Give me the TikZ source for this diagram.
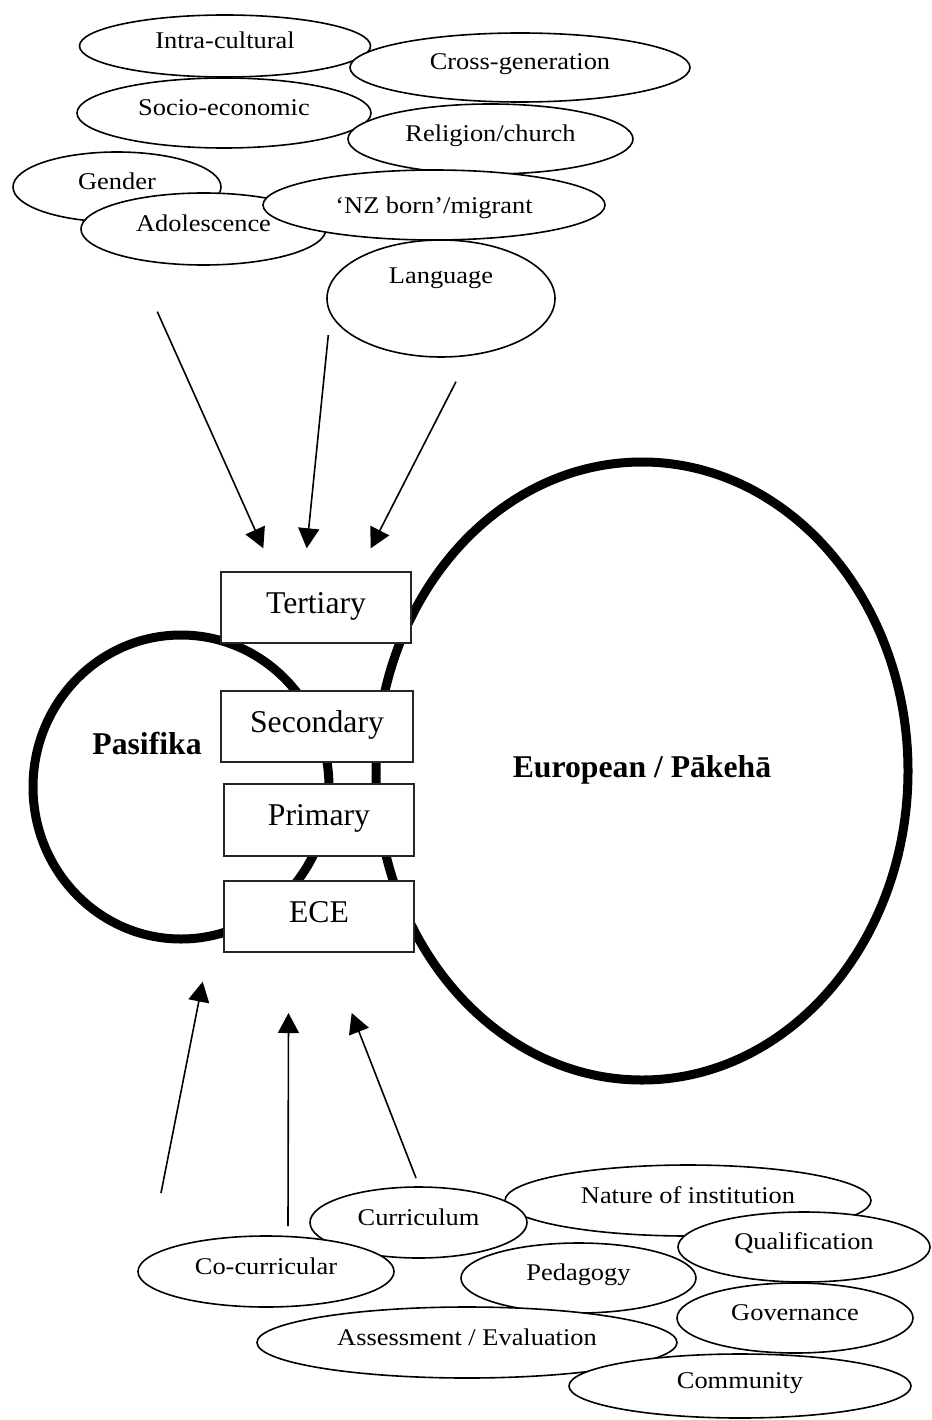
\documentclass[tikz,border=0pt]{standalone}
\usepackage{fontspec}
\setmainfont{Liberation Serif}
\usetikzlibrary{arrows.meta,shapes.geometric}
\newcommand\wtext[1]{\scalebox{1.1}[1]{#1}}
\newcommand\lowered[1]{\raisebox{-4pt}{#1}}
\begin{document}
\begin{tikzpicture}[x=1pt,y=-1pt,
  oval/.style={ellipse, draw, fill=white, line width=1.6pt, inner sep=0pt,
    font=\fontsize{24}{28}\selectfont, text height=0.7em, text depth=0.2em},
  levelbox/.style={rectangle, draw=black!85, fill=white, line width=1.5pt, inner sep=0pt,
    font=\fontsize{31.7}{38}\selectfont, text height=0.6em, text depth=0.3em},
  ring/.style={ellipse, draw, line width=9pt, inner sep=0pt},
  group/.style={font=\bfseries\fontsize{31.7}{38}\selectfont, anchor=base, inner sep=0pt},
  influence/.style={line width=1.6pt, -{Triangle[length=20pt,width=21pt]}},
]
\useasboundingbox (0,0) rectangle (931,1420);

% top influences
\node[oval, minimum width=291pt, minimum height=62pt] (intra) at (225,46) {\wtext{Intra-cultural}};
\node[oval, minimum width=340pt, minimum height=69pt] (cross) at (520,67.5) {\wtext{Cross-generation}};
\node[oval, minimum width=294pt, minimum height=70pt] (socio) at (224,113) {\wtext{Socio-economic}};
\node[oval, minimum width=285pt, minimum height=70pt] (religion) at (490.5,139) {\wtext{Religion/church}};
\node[oval, minimum width=208pt, minimum height=70pt] (gender) at (117,187) {\wtext{Gender}};
\node[oval, minimum width=245pt, minimum height=72pt] (adolescence) at (203.5,229) {\wtext{Adolescence}};
\node[oval, minimum width=342pt, minimum height=70pt] (nzborn) at (434,205) {\raisebox{-6pt}{\wtext{‘NZ born’/migrant}}};
\node[oval, minimum width=228pt, minimum height=117pt] (language) at (441,298.5) {\raisebox{17pt}{\wtext{Language}}};

% groups
\node[ring, minimum width=296pt, minimum height=304pt] (pasifikaring) at (181,787) {};
\node[ring, minimum width=532pt, minimum height=618pt] (europeanring) at (642,771) {};
\node[group] (pasifika) at (147,754) {Pasifika};
\node[group] (european) at (642,777) {European / Pākehā};

% levels
\node[levelbox, minimum width=190pt, minimum height=71pt] (tertiary) at (316,607.5) {\lowered{Tertiary}};
\node[levelbox, minimum width=192pt, minimum height=71pt] (secondary) at (317,726.5) {\lowered{Secondary}};
\node[levelbox, minimum width=190pt, minimum height=72pt] (primary) at (319,820) {\lowered{Primary}};
\node[levelbox, minimum width=190pt, minimum height=71pt] (ece) at (319,916.5) {\lowered{ECE}};

% bottom influences
\node[oval, minimum width=366pt, minimum height=71pt] (nature) at (688,1200.5) {\wtext{Nature of institution}};
\node[oval, minimum width=217pt, minimum height=71pt] (curriculum) at (418.5,1222.5) {\wtext{Curriculum}};
\node[oval, minimum width=252pt, minimum height=70pt] (qualification) at (804,1247) {\wtext{Qualification}};
\node[oval, minimum width=256pt, minimum height=71pt] (cocurricular) at (266,1271.5) {\wtext{Co-curricular}};
\node[oval, minimum width=235pt, minimum height=70pt] (pedagogy) at (578.5,1278) {\wtext{Pedagogy}};
\node[oval, minimum width=420pt, minimum height=71pt] (assessment) at (467,1342.5) {\wtext{Assessment / Evaluation}};
\node[oval, minimum width=236pt, minimum height=70pt] (governance) at (795,1318) {\wtext{Governance}};
\node[oval, minimum width=342pt, minimum height=64pt] (community) at (740,1386) {\wtext{Community}};

% arrows
\coordinate (ta1) at (157.3,311.7); \coordinate (ha1) at (263.3,548.3);
\coordinate (ta2) at (328.3,335);   \coordinate (ha2) at (306.7,548.3);
\coordinate (ta3) at (456,381.7);   \coordinate (ha3) at (370.7,548.3);
\coordinate (tb1) at (161,1193);    \coordinate (hb1) at (202.7,981.7);
\coordinate (tb2) at (288,1226);    \coordinate (hb2) at (288.5,1013);
\coordinate (tb3) at (416,1178);    \coordinate (hb3) at (351.7,1013);
\draw[influence] (ta1) -- (ha1);
\draw[influence] (ta2) -- (ha2);
\draw[influence] (ta3) -- (ha3);
\draw[influence] (tb1) -- (hb1);
\draw[influence] (tb2) -- (hb2);
\draw[influence] (tb3) -- (hb3);
\end{tikzpicture}
\end{document}
